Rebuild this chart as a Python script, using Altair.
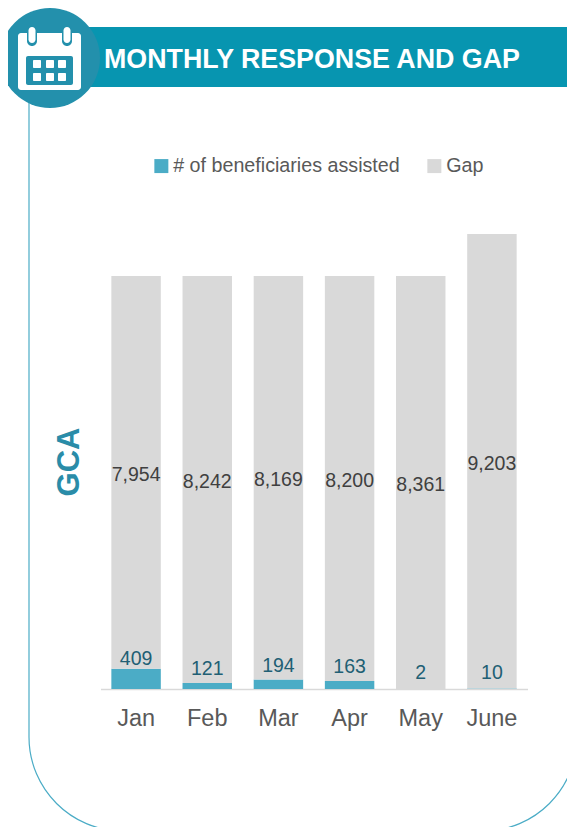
import altair as alt
import pandas as pd

months = ["Jan", "Feb", "Mar", "Apr", "May", "June"]
assisted = [409, 121, 194, 163, 2, 10]
gap = [7954, 8242, 8169, 8200, 8361, 9203]
series = ["# of beneficiaries assisted", "Gap"]
title_text = "MONTHLY RESPONSE AND GAP"
side_label = "GCA"

BLUE = "#4bacc6"
GREY = "#d9d9d9"
TEAL = "#0795b0"
DISC = "#2390ac"
SANS = "Liberation Sans"

# plot area origin on the page
OX, OY = 100.5, 234
one = pd.DataFrame({"a": [0]})


def rect(x0, y0, x1, y1, fill, r=0):
    kw = {"cornerRadius": r} if r else {}
    return alt.Chart(one).mark_rect(color=fill, **kw).encode(
        x=alt.value(x0 - OX), x2=alt.value(x1 - OX),
        y=alt.value(y0 - OY), y2=alt.value(y1 - OY),
    )


def label(text, x, y, size, color, font=SANS, weight="normal", angle=0, align="center"):
    kw = {"angle": angle} if angle else {}
    return alt.Chart(one).mark_text(
        text=text, fontSize=size, color=color, font=font, fontWeight=weight,
        align=align, baseline="middle", **kw,
    ).encode(x=alt.value(x - OX), y=alt.value(y - OY))


frame = alt.Chart(one).mark_rect(
    fillOpacity=0, fill="#ffffff", stroke=BLUE, strokeWidth=1.2,
    cornerRadiusBottomLeft=94, cornerRadiusBottomRight=94,
).encode(
    x=alt.value(29 - OX), x2=alt.value(577 - OX),
    y=alt.value(60 - OY), y2=alt.value(831 - OY),
)

decor = [
    frame,
    rect(60, 27, 640, 87, TEAL),
    alt.Chart(one).mark_circle(color=DISC, opacity=1, size=10000).encode(
        x=alt.value(50 - OX), y=alt.value(58 - OY)),
    rect(18, 33, 81, 90, "#ffffff", r=3),
    rect(27, 26, 37, 46, DISC, r=5),
    rect(62, 26, 72, 46, DISC, r=5),
    rect(28.5, 27, 35.5, 43, "#ffffff", r=3.5),
    rect(63.5, 27, 70.5, 43, "#ffffff", r=3.5),
    rect(26, 56, 73, 85, DISC, r=2),
]
for cx in (37, 50, 62):
    for cy in (64, 77):
        decor.append(rect(cx - 4, cy - 4, cx + 4, cy + 4, "#ffffff", r=1))
decor.append(label(title_text, 104, 59.5, 26.8, "#ffffff", weight="bold", align="left"))
decor.append(label(side_label, 70, 462, 31, "#2a8ca8", weight="bold", angle=270))

long = pd.DataFrame({
    "month": months * 2,
    "value": assisted + gap,
    "series": [series[0]] * 6 + [series[1]] * 6,
    "rank": [0] * 6 + [1] * 6,
})
wide = pd.DataFrame({"month": months, "assisted": assisted, "gap": gap})

x_enc = alt.X(
    "month:N", sort=months, title=None,
    scale=alt.Scale(paddingInner=0.305, paddingOuter=0.1525),
    axis=alt.Axis(labelAngle=0, labelFont=SANS, labelFontSize=23.5, labelColor="#595959",
                  labelPadding=17, ticks=False, domainColor=GREY, domainWidth=1.5, grid=False),
)
y_scale = alt.Scale(domain=[0, 9213], nice=False)

bars = alt.Chart(long).mark_bar().encode(
    x=x_enc,
    y=alt.Y("value:Q", stack="zero", title=None, scale=y_scale, axis=None),
    color=alt.Color(
        "series:N", title=None,
        scale=alt.Scale(domain=series, range=[BLUE, GREY]),
        legend=alt.Legend(
            orient="none", legendX=51, legendY=-78, direction="horizontal",
            symbolType="square", symbolSize=196, symbolStrokeWidth=0, symbolOpacity=1,
            labelFont=SANS, labelFontSize=19.7, labelColor="#595959", labelOffset=2,
            columnPadding=24, labelLimit=300,
        ),
    ),
    order=alt.Order("rank:Q"),
)

gap_labels = alt.Chart(wide).transform_calculate(
    pos="datum.assisted + datum.gap / 2"
).mark_text(font=SANS, fontSize=19.5, color="#404040", baseline="middle", dy=2.5).encode(
    x=alt.X("month:N", sort=months),
    y=alt.Y("pos:Q", scale=y_scale),
    text=alt.Text("gap:Q", format=","),
)
low_labels = alt.Chart(wide).transform_calculate(
    pos="datum.assisted * 0.7"
).mark_text(font=SANS, fontSize=19.5, color="#215f74", baseline="middle", dy=-16).encode(
    x=alt.X("month:N", sort=months),
    y=alt.Y("pos:Q", scale=y_scale),
    text=alt.Text("assisted:Q", format=","),
)

chart = alt.layer(*decor, bars, gap_labels, low_labels).properties(
    width=427, height=455,
    autosize=alt.AutoSizeParams(type="none"),
    padding={"left": 92.5, "top": 226, "right": 39.5, "bottom": 138},
    background="#ffffff",
).configure_view(stroke=None)

chart.save("out.html", embed_options={"renderer": "svg", "actions": False})
